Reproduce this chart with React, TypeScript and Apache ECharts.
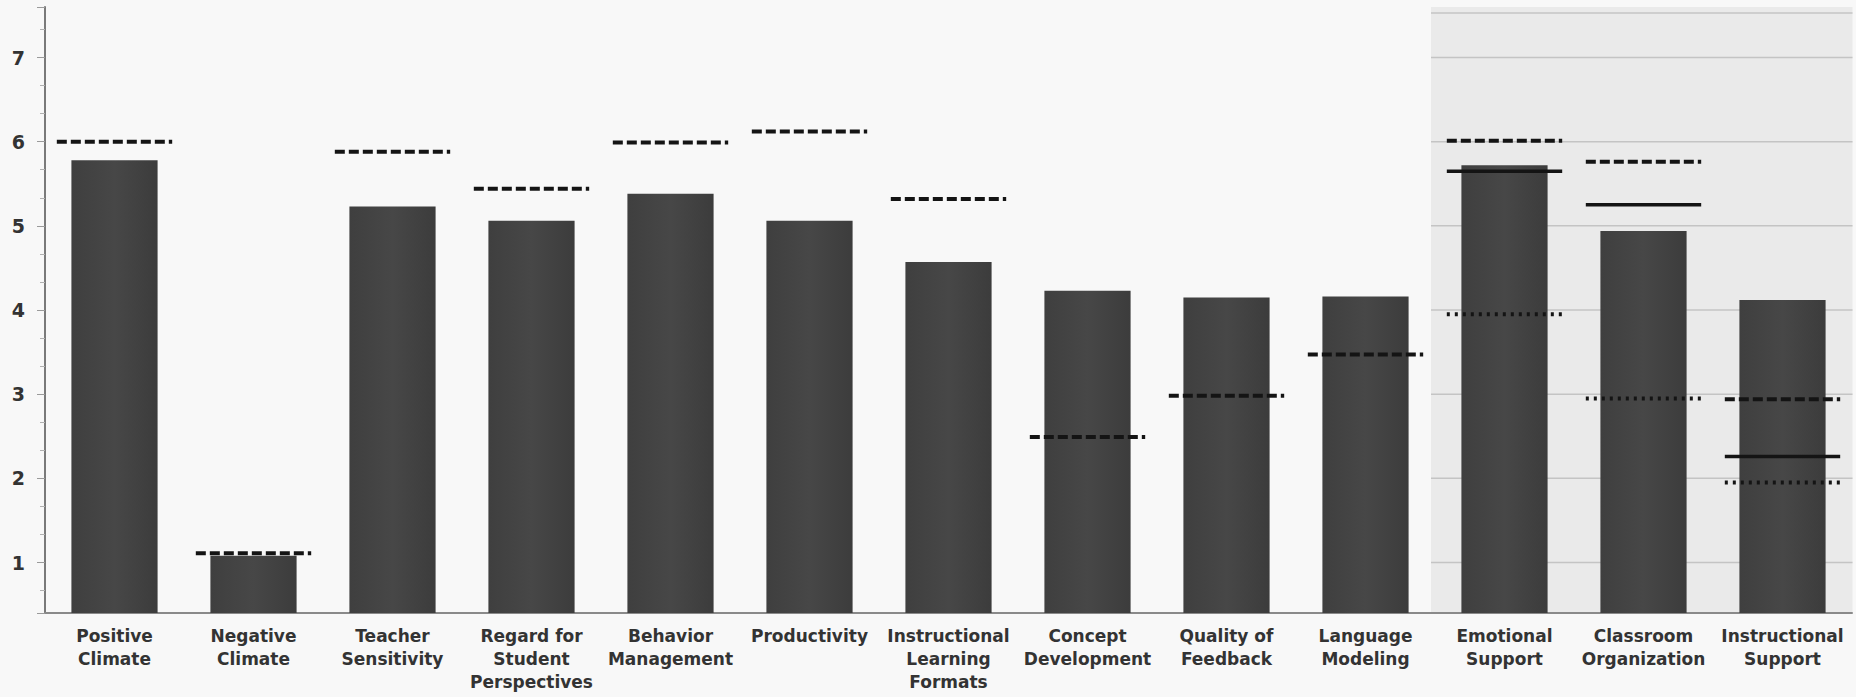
import React, { useEffect, useRef } from "react";
import * as echarts from "echarts";

const categories = [
  "Positive\nClimate",
  "Negative\nClimate",
  "Teacher\nSensitivity",
  "Regard for\nStudent\nPerspectives",
  "Behavior\nManagement",
  "Productivity",
  "Instructional\nLearning\nFormats",
  "Concept\nDevelopment",
  "Quality of\nFeedback",
  "Language\nModeling",
  "Emotional\nSupport",
  "Classroom\nOrganization",
  "Instructional\nSupport",
];

const barValues = [5.78, 1.08, 5.23, 5.06, 5.38, 5.06, 4.57, 4.23, 4.15, 4.16, 5.72, 4.94, 4.12];
const dashedValues = [6.0, 1.11, 5.88, 5.44, 5.99, 6.12, 5.32, 2.49, 2.98, 3.47, 6.01, 5.76, 2.94];
const solidValues: (number | null)[] = [null, null, null, null, null, null, null, null, null, null, 5.65, 5.25, 2.26];
const dottedValues: (number | null)[] = [null, null, null, null, null, null, null, null, null, null, 3.95, 2.95, 1.95];

const panelCategoryIndices = [10, 11, 12];
const panelGridValues = [1, 2, 3, 4, 5, 6, 7, 7.53];

const yTickLabels = ["1", "2", "3", "4", "5", "6", "7"];

const Y_MIN = 0.4;
const Y_MAX = 7.6;

const FONT = "'DejaVu Sans', Verdana, sans-serif";

function toPairs(vals: (number | null)[]) {
  return vals
    .map((v, i) => (v == null ? null : [i, v]))
    .filter((d) => d != null) as number[][];
}

function lineSeries(name: string, vals: (number | null)[], lineWidth: number, lineDash: number[] | null) {
  return {
    name,
    type: "custom",
    z: 5,
    data: toPairs(vals),
    encode: { x: 0, y: 1 },
    renderItem: (params: any, api: any) => {
      const c = api.coord([api.value(0), api.value(1)]);
      const w = api.size([1, 0])[0] * 0.83;
      return {
        type: "line",
        shape: { x1: c[0] - w / 2, y1: c[1], x2: c[0] + w / 2, y2: c[1] },
        style: {
          stroke: "#141414",
          lineWidth,
          lineDash: lineDash || undefined,
          lineCap: "butt",
        },
      };
    },
  };
}

export default function App() {
  const ref = useRef<HTMLDivElement>(null);

  useEffect(() => {
    if (!ref.current) return;
    const chart = echarts.init(ref.current, undefined, { renderer: "svg" });

    const option: any = {
      animation: false,
      backgroundColor: "#f8f8f8",
      grid: { left: 45, right: 4, top: 7, bottom: 84, containLabel: false },
      xAxis: {
        type: "category",
        data: categories,
        axisLine: { show: true, lineStyle: { color: "#8a8a8a", width: 2 } },
        axisTick: { show: false },
        axisLabel: {
          interval: 0,
          color: "#333333",
          fontFamily: FONT,
          fontSize: 17,
          fontWeight: "bold",
          lineHeight: 23,
          margin: 11,
          align: "center",
        },
        splitLine: { show: false },
      },
      yAxis: {
        type: "value",
        min: Y_MIN,
        max: Y_MAX,
        splitNumber: 7,
        axisLine: { show: true, lineStyle: { color: "#7a7a7a", width: 2 } },
        axisTick: { show: true, length: 8, lineStyle: { color: "#9a9a9a", width: 1 } },
        minorTick: { show: true, splitNumber: 3, length: 5, lineStyle: { color: "#b0b0b0" } },
        axisLabel: {
          showMinLabel: false,
          showMaxLabel: false,
          color: "#333",
          fontFamily: FONT,
          fontSize: 19,
          fontWeight: "bold",
          margin: 20,
          formatter: (v: number) => {
            const s = String(Math.round(v));
            return yTickLabels.indexOf(s) >= 0 && Math.abs(v - Math.round(v)) < 1e-6 ? s : "";
          },
        },
        splitLine: { show: false },
      },
      series: [
        {
          name: "panel",
          type: "custom",
          z: 0,
          silent: true,
          data: panelCategoryIndices.map((i) => [i, Y_MAX]),
          encode: { x: 0, y: 1 },
          renderItem: (params: any, api: any) => {
            const idx = api.value(0);
            const top = api.coord([idx, Y_MAX]);
            const bottom = api.coord([idx, Y_MIN]);
            const bw = api.size([1, 0])[0];
            const children: any[] = [
              {
                type: "rect",
                shape: { x: top[0] - bw / 2 - 4, y: top[1], width: bw + 4.5, height: bottom[1] - top[1] },
                style: { fill: "#eaeaea" },
              },
            ];
            panelGridValues.forEach((g) => {
              const p = api.coord([idx, g]);
              children.push({
                type: "line",
                shape: { x1: p[0] - bw / 2 - 4, y1: p[1], x2: p[0] + bw / 2 + 0.5, y2: p[1] },
                style: { stroke: "#c4c4c4", lineWidth: 1.5 },
              });
            });
            return { type: "group", children };
          },
        },
        {
          name: "score",
          type: "bar",
          z: 2,
          data: barValues,
          barWidth: "62%",
          itemStyle: {
            color: new echarts.graphic.LinearGradient(0, 0, 1, 0, [
              { offset: 0, color: "#3f3f3f" },
              { offset: 0.5, color: "#474747" },
              { offset: 1, color: "#3c3c3c" },
            ]),
          },
        },
        lineSeries("dashed", dashedValues, 4, [10, 4]),
        lineSeries("solid", solidValues, 3.5, null),
        lineSeries("dotted", dottedValues, 4, [3, 5]),
      ],
    };

    chart.setOption(option);
    return () => chart.dispose();
  }, []);

  return (
    <div
      ref={ref}
      style={{ position: "fixed", left: 0, top: 0, width: 1856, height: 697 }}
    />
  );
}
